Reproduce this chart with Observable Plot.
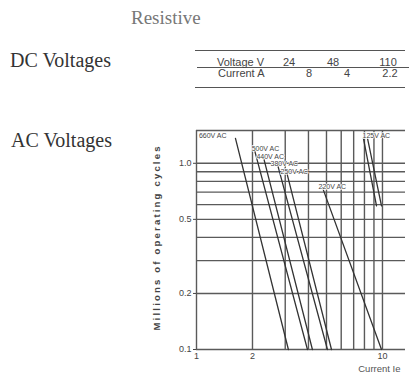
<!DOCTYPE html>
<html><head><meta charset="utf-8">
<script src="https://cdn.jsdelivr.net/npm/d3@7"></script>
<script src="https://cdn.jsdelivr.net/npm/@observablehq/plot@0.6"></script>
<style>
html,body{margin:0;padding:0;background:#fff;}
#wrap{position:relative;width:409px;height:383px;overflow:hidden;}
#head{position:relative;width:409px;height:125px;}
#chart{position:relative;width:409px;height:258px;}
.serif{font-family:"Liberation Serif","DejaVu Serif",serif;position:absolute;white-space:nowrap;line-height:1;z-index:2;}
.tbl{font-family:"Liberation Sans",Arial,sans-serif;position:absolute;font-size:11px;color:#444;white-space:nowrap;line-height:1;}
.rule{position:absolute;height:0;border-top:1.5px solid #555;}
</style></head><body>
<div id="wrap"><div id="head"></div><div id="chart"></div></div>
<script>
// Header texts
const titleText = "Resistive";
const dcTitle = "DC Voltages";
const acTitle = "AC Voltages";
// DC table
const dcRowLabels = ["Voltage V", "Current A"];
const dcVoltages = ["24", "48", "110"];
const dcCurrents = ["8", "4", "2.2"];

// Chart axes
const xDomain = [1, 13.3];
const yDomain = [0.1, 1.5];
const xTicks = [1, 2, 3, 4, 5, 6, 10];
const yTicks = [0.1, 0.2, 0.5, 1.0];
const xGrid = [1, 2, 3, 4, 5, 6, 7, 8, 9, 10];
const yGrid = [0.1, 0.2, 0.3, 0.4, 0.5, 0.6, 0.7, 0.8, 0.9, 1.0];
const xLabel = "Current Ie";
const yLabel = "Millions of operating cycles";

// Life curves (straight on log-log): start and end points
const curveNames   = ["660V AC", "500V AC", "440V AC", "380V AC", "250V AC", "220V AC", "125V AC a", "125V AC b"];
const startCurrent = [1.62, 2.05, 2.29, 2.73, 3.05, 4.76, 7.90, 8.31];
const startCycles  = [1.36, 1.18, 1.08, 0.98, 0.90, 0.74, 1.36, 1.36];
const endCurrent   = [3.12, 3.95, 4.20, 5.06, 5.32, 9.88, 9.29, 9.88];
const endCycles    = [0.1, 0.1, 0.1, 0.1, 0.1, 0.1, 0.59, 0.59];

// Curve labels
const labelTexts   = ["660V AC", "500V AC", "440V AC", "380V AC", "250V AC", "220V AC", "125V AC"];
const labelCurrent = [1.03, 1.98, 2.10, 2.50, 2.83, 4.53, 7.81];
const labelCycles  = [1.41, 1.19, 1.09, 0.99, 0.90, 0.75, 1.41];

// ---- header (HTML) ----
const head = document.getElementById("head");
const wrap = document.getElementById("wrap");
function addDiv(parent, cls, text, style) {
  const d = document.createElement("div");
  d.className = cls; d.textContent = text;
  Object.assign(d.style, style);
  parent.appendChild(d); return d;
}
addDiv(head, "serif", titleText, {left: "131px", top: "8px", fontSize: "19px", color: "#777"});
addDiv(head, "serif", dcTitle, {left: "10px", top: "50px", fontSize: "20px", color: "#333"});
addDiv(wrap, "serif", acTitle, {left: "11px", top: "130px", fontSize: "20px", color: "#333"});
addDiv(head, "rule", "", {left: "195px", top: "50px", width: "210px"});
addDiv(head, "rule", "", {left: "197px", top: "67px", width: "212px"});
addDiv(head, "rule", "", {left: "195px", top: "87px", width: "210px"});
const row1X = [289, 333, 388], row2X = [309, 347, 390];
addDiv(head, "tbl", dcRowLabels[0], {left: "217px", top: "57px"});
addDiv(head, "tbl", dcRowLabels[1], {left: "218px", top: "67.5px"});
dcVoltages.forEach((v, i) => addDiv(head, "tbl", v, {left: row1X[i] + "px", top: "57px", transform: "translateX(-50%)"}));
dcCurrents.forEach((v, i) => addDiv(head, "tbl", v, {left: row2X[i] + "px", top: "67.5px", transform: "translateX(-50%)"}));

// ---- chart (Plot) ----
const segments = [];
curveNames.forEach((n, i) => {
  segments.push({name: n, I: startCurrent[i], N: startCycles[i]});
  segments.push({name: n, I: endCurrent[i], N: endCycles[i]});
});
const labels = labelTexts.map((t, i) => ({t, I: labelCurrent[i], N: labelCycles[i]}));

const gridStroke = "#5a5a5a";
const chart = Plot.plot({
  width: 409, height: 258,
  marginTop: 5, marginRight: 4, marginBottom: 34, marginLeft: 196,
  style: {fontFamily: "Liberation Sans, Arial, sans-serif", fontSize: "9px", color: "#444", background: "transparent", overflow: "visible"},
  x: {type: "log", domain: xDomain},
  y: {type: "log", domain: yDomain},
  marks: [
    Plot.ruleX(xGrid, {stroke: gridStroke, strokeWidth: 1.4}),
    Plot.ruleY(yGrid, {stroke: gridStroke, strokeWidth: 1.4}),
    Plot.ruleY([yDomain[1]], {stroke: gridStroke, strokeWidth: 1.4}),
    Plot.line(segments, {x: "I", y: "N", z: "name", stroke: "#333", strokeWidth: 1.3}),
    Plot.text(labels, {x: "I", y: "N", text: "t", textAnchor: "start", fontSize: 7, fill: "#444", stroke: "white", strokeWidth: 1.5}),
    Plot.axisX(xTicks, {tickSize: 0, tickPadding: 3, tickFormat: d => String(d), label: null, fontSize: 9}),
    Plot.axisY(yTicks, {tickSize: 3, tickPadding: 2, tickFormat: d => d.toFixed(1), label: null, fontSize: 9}),
    Plot.text([xLabel], {frameAnchor: "bottom-right", dx: -5, dy: 22, textAnchor: "end", fontSize: 9.5, fill: "#555"}),
    Plot.text([yLabel], {frameAnchor: "bottom-left", dx: -37, dy: -19, rotate: -90, textAnchor: "start", fontSize: 9.5, fontWeight: "bold", fill: "#444", className: "ylab"})
  ]
});
document.getElementById("chart").appendChild(chart);
chart.querySelectorAll(".ylab text").forEach(t => t.setAttribute("letter-spacing", "2.2"));
</script>
</body></html>
